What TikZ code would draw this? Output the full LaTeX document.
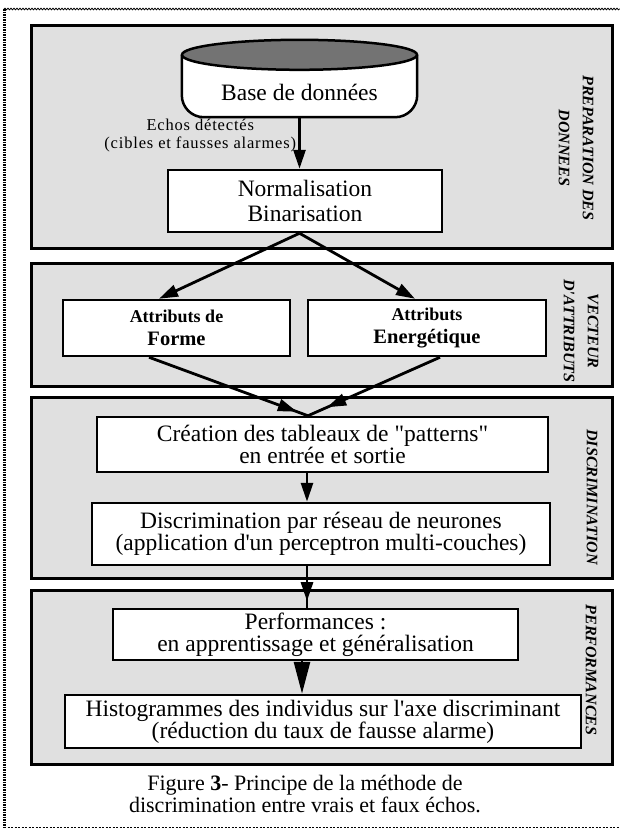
\documentclass[tikz,border=0pt]{standalone}
\usepackage{fontspec}
\setmainfont{Liberation Serif}[Ligatures=TeXOff]
\newfontfamily\echofont[LetterSpace=5, Ligatures=TeXOff]{Liberation Serif}
\usetikzlibrary{arrows.meta, decorations.markings, decorations.pathmorphing}

\begin{document}
\begin{tikzpicture}[x=1pt, y=-1pt,
  panel/.style={draw, line width=3pt, fill=black!12, minimum width=581pt, inner sep=0pt},
  procbox/.style={draw, line width=2.5pt, fill=white, align=center, inner sep=0pt,
    font=\fontsize{23.5}{22}\selectfont},
  sidelabel/.style={rotate=-90, align=center, inner sep=0pt,
    font=\fontsize{16}{24}\selectfont\bfseries\itshape},
  arr/.style={line width=2.8pt, -{Triangle[length=19pt, width=12pt]}},
  bigarr/.style={line width=2.8pt, -{Triangle[length=32pt, width=16pt]}},
  midtip/.style={line width=2.8pt, postaction=decorate, decoration={markings,
    mark=at position #1 with {\arrow{Triangle[length=19pt, width=12pt]}}}}]
  \useasboundingbox (0,0) rectangle (620,831);

  % Outer frame of the page
  \draw[line width=3pt, dash pattern=on 1.5pt off 1pt] (4,9) -- (4,827);
  \draw[line width=0.8pt, decorate, decoration={snake, amplitude=0.8pt, segment length=3pt}] (4,9) -- (620,9);
  \draw[line width=0.6pt, dash pattern=on 2pt off 1.5pt] (4,827) -- (620,827);

  % The four stages
  \node[panel, minimum height=223pt] (prep) at (321.5,136.5) {};
  \node[panel, minimum height=123pt] (vect) at (321.5,324.5) {};
  \node[panel, minimum height=181pt] (discr) at (321.5,487.5) {};
  \node[panel, minimum height=174pt] (perf) at (321.5,677) {};

  \node[sidelabel] (prepl) at (576,148) {PREPARATION DES\\DONNEES};
  \node[sidelabel] (vectl) at (581,331) {VECTEUR\\D'ATTRIBUTS};
  \node[sidelabel] (discl) at (592,497) {DISCRIMINATION};
  \node[sidelabel] (perfl) at (591,670) {PERFORMANCES};

  % Database drum
  \node[minimum width=235pt, minimum height=62pt, inner sep=0pt] (dbase) at (299.5,86) {};
  \draw[line width=2.5pt, fill=white, rounded corners=22pt]
    (dbase.north west) |- (dbase.south east) -- (dbase.north east);
  \draw[line width=2.5pt, fill=black!55] (dbase.north) ellipse [x radius=117.5pt, y radius=15pt];
  \node[font=\fontsize{23.5}{22}\selectfont] (dbtext) at ([yshift=-6pt]dbase.center) {Base de données};

  % Processing boxes
  \node[procbox, minimum width=274pt, minimum height=62pt, font=\fontsize{23.5}{25}\selectfont]
    (norm) at (305,201) {Normalisation\\Binarisation};
  \node[procbox, minimum width=227pt, minimum height=56pt, font=\fontsize{20.5}{23}\selectfont\bfseries]
    (forme) at (176.5,328) {{\fontsize{18}{23}\selectfont Attributs de}\\Forme};
  \node[procbox, minimum width=238pt, minimum height=56pt, font=\fontsize{20.5}{23}\selectfont\bfseries]
    (energ) at (427,328) {{\fontsize{18}{23}\selectfont Attributs}\\Energétique};
  \node[procbox, minimum width=451pt, minimum height=55pt] (crea) at (322.5,444.5)
    {Création des tableaux de "patterns"\\en entrée et sortie};
  \node[procbox, minimum width=458pt, minimum height=62pt] (disc) at (321,534)
    {Discrimination par réseau de neurones\\(application d'un perceptron multi-couches)};
  \node[procbox, minimum width=405pt, minimum height=51pt] (perfbox) at (315.5,634.5)
    {Performances :\\en apprentissage et généralisation};
  \node[procbox, minimum width=516pt, minimum height=53pt] (histo) at (323,721.5)
    {Histogrammes des individus sur l'axe discriminant\\(réduction du taux de fausse alarme)};

  % Flow of the data
  \coordinate (spine) at (307,0);
  \coordinate (spinelow) at (302,0);
  \draw[arr] (dbase.south) -- node[pos=0.36, left=2pt, align=center, inner sep=0pt,
    font=\echofont\fontsize{16.5}{18}\selectfont] (echos)
    {Echos détectés\\(cibles et fausses alarmes)} (dbase.south |- norm.north);
  \draw[arr] (dbase.south |- norm.south) -- ([xshift=-17.5pt]forme.north);
  \draw[arr] (dbase.south |- norm.south) -- ([xshift=-12pt]energ.north);
  \draw[midtip=0.93] ([xshift=-27.5pt]forme.south) -- ([xshift=-14.5pt]crea.north);
  \draw[midtip=0.855] ([xshift=13pt]energ.south) -- ([xshift=-14.5pt]crea.north);
  \draw[arr] (crea.south -| spine) -- (disc.north -| spine);
  \draw[midtip=0.84] (disc.south -| spine) -- (perfbox.north -| spine);
  \draw[bigarr] (perfbox.south -| spinelow) -- (histo.north -| spinelow);

  % Caption
  \node[font=\fontsize{22}{22}\selectfont, align=center] (caption) at (305,794)
    {Figure {\bfseries 3}- Principe de la méthode de\\discrimination entre vrais et faux échos.};
\end{tikzpicture}
\end{document}
